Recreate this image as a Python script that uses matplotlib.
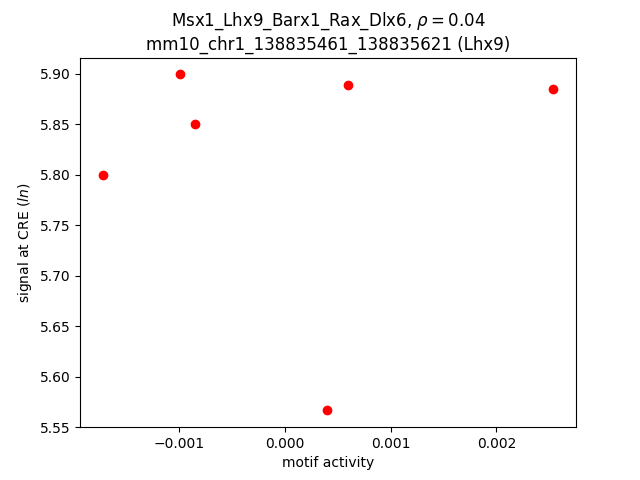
import matplotlib
matplotlib.use("Agg")
import matplotlib.pyplot as plt

motif_activity = [-0.001725, -0.000995, -0.000853, 0.000597, 0.00254, 0.000398]
signal = [5.7996, 5.8995, 5.8508, 5.8885, 5.8855, 5.5665]

fig, ax = plt.subplots(figsize=(6.4, 4.8), dpi=100)
ax.scatter(motif_activity, signal, c="red")
ax.set_title("Msx1_Lhx9_Barx1_Rax_Dlx6, $\\rho = 0.04$\nmm10_chr1_138835461_138835621 (Lhx9)")
ax.set_xlabel("motif activity")
ax.set_ylabel("signal at CRE ($ln$)")
fig.savefig("out.png")
